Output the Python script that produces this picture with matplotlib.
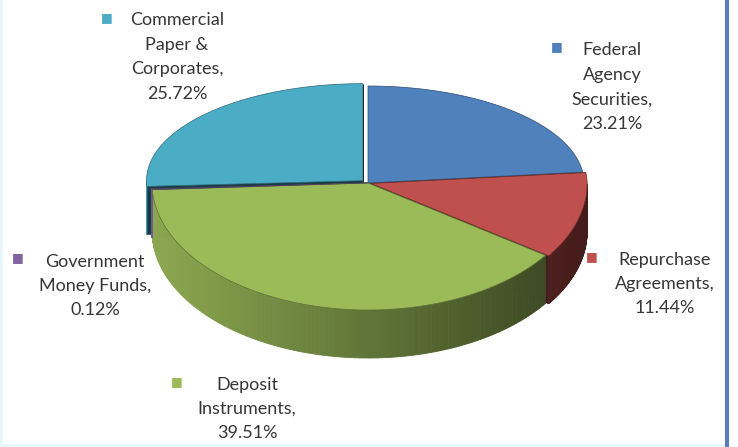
import numpy as np
import matplotlib.pyplot as plt
from matplotlib.patches import Polygon
import matplotlib.colors as mcolors

# data (clockwise from 12 o'clock, as in the original chart)
names = ["Federal\nAgency\nSecurities,", "Repurchase\nAgreements,", "Deposit\nInstruments,",
         "Government\nMoney Funds,", "Commercial\nPaper &\nCorporates,"]
shares = [23.21, 11.44, 39.51, 0.12, 25.72]
colors = ["#4f81bd", "#c0504d", "#9bbb59", "#8064a2", "#4bacc6"]
explode = [0.0, 0.015, 0.0, 0.0, 0.035]

# label placement (pixel centre of text block, marker position)
label_pos = [(612, 87), (665, 284), (247, 409), (95, 286), (177, 57)]
marker_pos = [(557, 47), (592, 257), (177, 382), (18, 258), (107, 18)]

W, H = 738, 447
cx, cy, a, b_back, b_front, depth = 368, 183, 216, 97, 127, 48

fig = plt.figure(figsize=(W / 100, H / 100), dpi=100)
ax = fig.add_axes([0, 0, 1, 1])
ax.set_xlim(0, W)
ax.set_ylim(H, 0)
ax.axis("off")


def shade(c, f):
    r, g, bb = mcolors.to_rgb(c)
    return (r * f, g * f, bb * f)


def pt(t, dx, dy, z=0):
    bb = b_back if np.cos(t) > 0 else b_front
    return (cx + dx + a * np.sin(t), cy + dy - bb * np.cos(t) + z)


fr = np.array(shares) / sum(shares)
ends = np.cumsum(fr) * 2 * np.pi
starts = ends - fr * 2 * np.pi

offs = []
for i in range(len(shares)):
    tm = (starts[i] + ends[i]) / 2
    bb = b_back if np.cos(tm) > 0 else b_front
    offs.append((explode[i] * a * np.sin(tm), -explode[i] * bb * np.cos(tm)))

# radial cut faces
for i in range(len(shares)):
    dx, dy = offs[i]
    for t in (starts[i], ends[i]):
        c0 = (cx + dx, cy + dy)
        p = pt(t, dx, dy)
        quad = [c0, p, (p[0], p[1] + depth), (c0[0], c0[1] + depth)]
        ax.add_patch(Polygon(quad, closed=True, fc=shade(colors[i], 0.35),
                             ec=shade(colors[i], 0.3), lw=0.5, zorder=1))

# outer walls on the front half, darker to the right
for i in range(len(shares)):
    dx, dy = offs[i]
    ts = np.linspace(starts[i], ends[i], 120)
    for t0, t1 in zip(ts[:-1], ts[1:]):
        tmid = (t0 + t1) / 2
        if np.cos(tmid) > 0:
            continue
        p0, p1 = pt(t0, dx, dy), pt(t1, dx, dy)
        quad = [p0, p1, (p1[0], p1[1] + depth), (p0[0], p0[1] + depth)]
        f = 0.9 - 0.55 * (np.sin(tmid) + 1) / 2
        col = shade(colors[i], f)
        ax.add_patch(Polygon(quad, closed=True, fc=col, ec=col, lw=0.6, zorder=2))

# top faces
for i in range(len(shares)):
    dx, dy = offs[i]
    ts = np.linspace(starts[i], ends[i], 200)
    poly = [(cx + dx, cy + dy)] + [pt(t, dx, dy) for t in ts]
    ax.add_patch(Polygon(poly, closed=True, fc=colors[i],
                         ec=shade(colors[i], 0.6), lw=0.5, zorder=3))

# labels
for i in range(len(shares)):
    x, y = label_pos[i]
    ax.text(x, y, f"{names[i]}\n{shares[i]:.2f}%", ha="center", va="center",
            fontsize=13, family=["Lato", "DejaVu Sans"], color="#363636",
            linespacing=1.65, zorder=5)
    mx, my = marker_pos[i]
    ax.text(mx, my, "\u25a0", ha="center", va="center", fontsize=9,
            family=["DejaVu Sans"], color=colors[i], zorder=5)

# frame: light border and the blue line on the right
ax.plot([1, 1, W - 12], [0, H - 2, H - 2], color="#e6f7fb", lw=2, zorder=0)
ax.plot([727, 727], [0, H], color="#5b7fb5", lw=3, zorder=6)

fig.savefig("out.png", dpi=100, facecolor="white")
